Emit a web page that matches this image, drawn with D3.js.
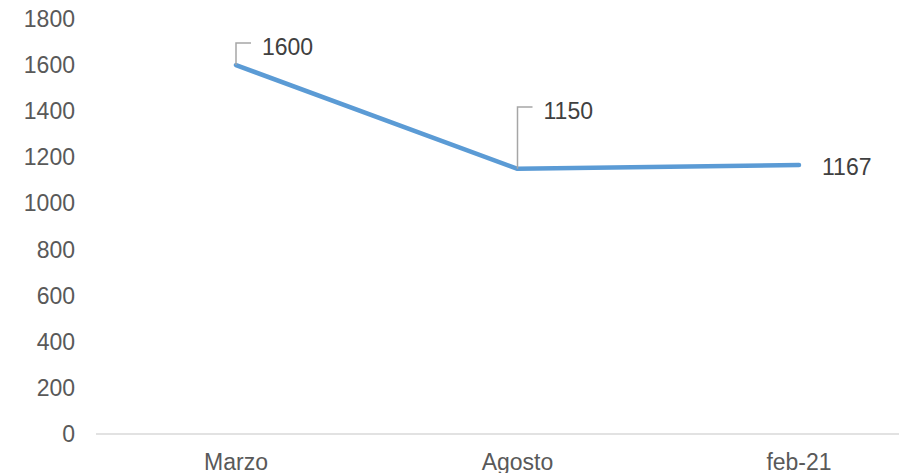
<!DOCTYPE html>
<html>
<head>
<meta charset="utf-8">
<script src="https://cdn.jsdelivr.net/npm/d3@7/dist/d3.min.js"></script>
<style>
  body { margin: 0; background: #fff; }
  text { font-family: "Liberation Sans", Arial, sans-serif; fill: #595959; }
</style>
</head>
<body>
<svg id="chart" width="899" height="473"></svg>
<script>
var categories = ["Marzo", "Agosto", "feb-21"];
var values = [1600, 1150, 1167];
var yTicks = [0, 200, 400, 600, 800, 1000, 1200, 1400, 1600, 1800];
// which labels have a leader line (up from the point, then right)
var labelLeader = [true, true, false];

var svg = d3.select("#chart");
var fontSize = "23px";

var xScale = d3.scalePoint().domain(categories).range([236, 799]);
var yScale = d3.scaleLinear().domain([0, 1800]).range([434, 19]);

// y tick labels
svg.selectAll("text.ytick").data(yTicks).enter().append("text")
    .attr("class", "ytick")
    .attr("x", 75)
    .attr("y", function (d) { return yScale(d); })
    .attr("dy", "0.35em")
    .attr("text-anchor", "end")
    .style("font-size", fontSize)
    .text(function (d) { return d; });

// baseline
svg.append("line")
    .attr("x1", 96).attr("x2", 899)
    .attr("y1", yScale(0)).attr("y2", yScale(0))
    .style("stroke", "#d9d9d9")
    .style("stroke-width", 1.5);

// x labels (bottom is cropped in the original too)
svg.selectAll("text.xtick").data(categories).enter().append("text")
    .attr("class", "xtick")
    .attr("x", function (d) { return xScale(d); })
    .attr("y", 470)
    .attr("text-anchor", "middle")
    .style("font-size", fontSize)
    .text(function (d) { return d; });

// the line
var line = d3.line()
    .x(function (d, i) { return xScale(categories[i]); })
    .y(function (d) { return yScale(d); });

svg.append("path")
    .datum(values)
    .attr("d", line)
    .style("fill", "none")
    .style("stroke", "#5b9bd5")
    .style("stroke-width", 4.5)
    .style("stroke-linecap", "round")
    .style("stroke-linejoin", "round");

// data labels with leader lines
var leaderTop = [43, 107];
values.forEach(function (v, i) {
    var px = xScale(categories[i]);
    var py = yScale(v);
    if (labelLeader[i]) {
        var top = leaderTop[i];
        svg.append("path")
            .attr("d", "M" + px + "," + py + "V" + top + "H" + (px + 15))
            .style("fill", "none")
            .style("stroke", "#a6a6a6")
            .style("stroke-width", 1.5);
        svg.append("text")
            .attr("x", px + 26)
            .attr("y", top + 4)
            .attr("dy", "0.35em")
            .style("font-size", fontSize)
            .style("fill", "#404040")
            .text(v);
    } else {
        svg.append("text")
            .attr("x", px + 23)
            .attr("y", py + 2)
            .attr("dy", "0.35em")
            .style("font-size", fontSize)
            .style("fill", "#404040")
            .text(v);
    }
});
</script>
</body>
</html>
